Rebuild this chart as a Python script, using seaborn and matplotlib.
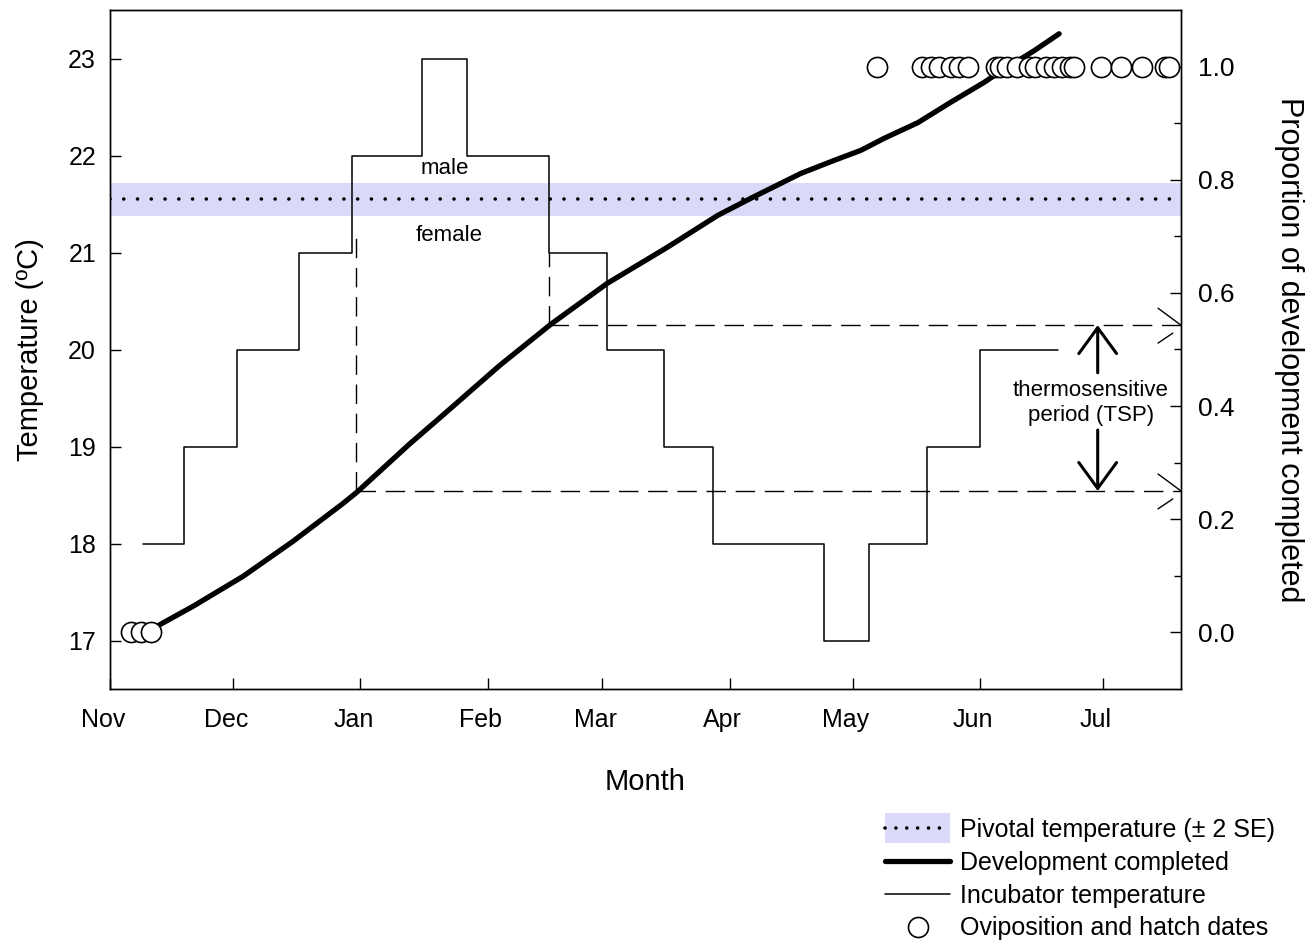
import numpy as np
import pandas as pd
import matplotlib
matplotlib.use("Agg")
import matplotlib.pyplot as plt
import matplotlib.transforms as mtransforms
from matplotlib.patches import Rectangle, Patch
from matplotlib.lines import Line2D
from matplotlib.legend_handler import HandlerPatch
import seaborn as sns

# ---------------- data ----------------
month_days = [0, 30, 61, 92, 120, 151, 181, 212, 242]
month_labels = ["Nov", "Dec", "Jan", "Feb", "Mar", "Apr", "May", "Jun", "Jul"]

# incubator temperature programme (step changes, days since 1 Nov)
step_day = [8, 18, 31, 46, 59, 76, 87, 107, 121, 135, 147, 174, 185, 199, 212, 231]
step_temp = [18, 19, 20, 21, 22, 23, 22, 21, 20, 19, 18, 17, 18, 19, 20, 20]

# proportion of development completed
dev_day = [10.5, 12.2, 20.2, 32.4, 44.6, 56.8, 60.2, 73.0, 80.5, 95.0, 107.5,
           121.2, 135.9, 148.1, 156.1, 168.3, 176.4, 183.0, 188.6, 196.9,
           204.9, 213.0, 217.1, 225.2, 231.3]
dev_prop = [0.005, 0.014, 0.046, 0.099, 0.161, 0.228, 0.248, 0.333, 0.380,
            0.472, 0.545, 0.617, 0.681, 0.737, 0.767, 0.811, 0.834, 0.852,
            0.873, 0.901, 0.937, 0.972, 0.992, 1.028, 1.058]

# oviposition and hatch dates
ovi_day = [5, 7.5, 10]
ovi_prop = [0.0, 0.0, 0.0]
hatch_day = [187, 198, 200, 202, 205, 207, 209, 216, 217, 218.5, 221, 224,
             225.5, 228, 230, 232, 234, 235, 241.5, 246.5, 251.5, 257, 258]
hatch_prop = [1.0] * len(hatch_day)

# pivotal temperature (+/- 2 SE)
pivotal = 21.55
pivotal_lo = 21.38
pivotal_hi = 21.72

# thermosensitive period
tsp_start_day, tsp_end_day = 60, 107
tsp_start_prop, tsp_end_prop = 0.25, 0.543

# ---------------- style ----------------
sns.set_style("ticks")
plt.rcParams["font.family"] = ["Liberation Sans", "DejaVu Sans"]
plt.rcParams["axes.linewidth"] = 1.0
for k in ("text.color", "axes.labelcolor", "xtick.color", "ytick.color",
          "axes.edgecolor"):
    plt.rcParams[k] = "black"

fig = plt.figure(figsize=(13.13, 9.43), dpi=100)
ax = fig.add_axes([110 / 1313, 1 - 689 / 943, 1071 / 1313, 679 / 943])
ax2 = ax.twinx()

XMAX = 261
T_LO, T_HI = 16.5, 23.5
P_LO, P_HI = -0.1, 1.1


def p2t(p):
    return T_LO + (p - P_LO) / (P_HI - P_LO) * (T_HI - T_LO)


# pivotal band and line
ax.axhspan(pivotal_lo, pivotal_hi, color="#dadaf8", lw=0, zorder=0)
ax.axhline(pivotal, color="black", lw=2.6, linestyle=(0, (0.01, 3.8)),
           dash_capstyle="round", zorder=1)

# incubator temperature
step_df = pd.DataFrame({"day": step_day, "temp": step_temp})
sns.lineplot(data=step_df, x="day", y="temp", ax=ax, color="black", lw=1.1,
             drawstyle="steps-post", estimator=None, sort=False, zorder=2)

# TSP dashed guides
dash = (0, (14, 7))
t_start, t_end = p2t(tsp_start_prop), p2t(tsp_end_prop)
ax.plot([tsp_start_day, tsp_start_day], [t_start, 21.2], color="black", lw=1.0, ls=dash)
ax.plot([tsp_end_day, tsp_end_day], [t_end, 21.0], color="black", lw=1.0, ls=dash)
ax.plot([tsp_start_day, XMAX], [t_start, t_start], color="black", lw=1.0, ls=dash)
ax.plot([tsp_end_day, XMAX], [t_end, t_end], color="black", lw=1.0, ls=dash)
for t in (t_start, t_end):
    ax.plot([255.4, XMAX], [t + 0.175, t], color="black", lw=1.0, clip_on=False)
    ax.plot([255.4, 259.0], [t - 0.185, t - 0.082], color="black", lw=1.0, clip_on=False)

# TSP arrows and text
arrow_kw = dict(arrowstyle="->,head_length=0.93,head_width=0.68", color="black",
                lw=2.2, shrinkA=0, shrinkB=0, mutation_scale=20)
ax.annotate("", xy=(240.7, t_end), xytext=(240.7, 19.76), arrowprops=arrow_kw)
ax.annotate("", xy=(240.7, t_start), xytext=(240.7, 19.17), arrowprops=arrow_kw)
ax.text(239, 19.45, "thermosensitive\nperiod (TSP)", ha="center", va="center",
        fontsize=16, linespacing=1.25)
ax.text(81.5, 21.87, "male", ha="center", va="center", fontsize=16)
ax.text(82.7, 21.18, "female", ha="center", va="center", fontsize=16)

# development curve (right axis)
dev_df = pd.DataFrame({"day": dev_day, "prop": dev_prop})
sns.lineplot(data=dev_df, x="day", y="prop", ax=ax2, color="black", lw=3.8,
             estimator=None, sort=False, solid_capstyle="round", zorder=2)

# oviposition / hatch dates
pts = pd.DataFrame({"day": ovi_day + hatch_day, "prop": ovi_prop + hatch_prop})
sns.scatterplot(data=pts, x="day", y="prop", ax=ax2, marker="o", s=210,
                facecolor="white", edgecolor="black", linewidth=1.2, zorder=3)

# ---------------- axes ----------------
ax.set_xlim(0, XMAX)
ax.set_ylim(T_LO, T_HI)
ax2.set_ylim(P_LO, P_HI)
ax.set_xticks(month_days)
ax.set_xticklabels(month_labels)
ax.set_yticks([17, 18, 19, 20, 21, 22, 23])
ax2.set_yticks([0.0, 0.2, 0.4, 0.6, 0.8, 1.0])
ax2.set_yticklabels(["0.0", "0.2", "0.4", "0.6", "0.8", "1.0"])
ax2.set_yticks([0.1, 0.3, 0.5, 0.7, 0.9], minor=True)

ax.tick_params(axis="x", direction="in", length=8, width=1.0, labelsize=18,
               pad=13.5, colors="black")
ax.tick_params(axis="y", direction="in", length=8, width=1.0, labelsize=18,
               pad=10, colors="black")
ax2.tick_params(axis="y", which="major", direction="in", length=8, width=1.0,
                labelsize=19, pad=12, colors="black")
ax2.tick_params(axis="y", which="minor", direction="in", length=5, width=1.0)
for sp in ax.spines.values():
    sp.set_visible(True)
    sp.set_color("black")
for sp in ax2.spines.values():
    sp.set_color("black")

offset = mtransforms.ScaledTranslation(-7 / 100, 0, fig.dpi_scale_trans)
for lab in ax.get_xticklabels():
    lab.set_transform(lab.get_transform() + offset)

ax.set_xlabel("Month", fontsize=21)
ax.set_ylabel("Temperature (ºC)", fontsize=21)
ax2.set_ylabel("Proportion of development completed", fontsize=22,
               rotation=270, va="bottom")
ax.xaxis.set_label_coords(0.5, -0.116)
ax.xaxis.label.set_va("top")
ax.yaxis.set_label_coords(-0.062, 0.5)
ax2.yaxis.set_label_coords(1.087, 0.5)

# ---------------- legend ----------------
def tall_patch(legend, orig_handle, xdescent, ydescent, width, height, fontsize):
    pad = 0.35 * height
    return Rectangle((-xdescent, -ydescent - pad), width, height + 2 * pad)


band_h = Patch(facecolor="#dadaf8", edgecolor="none")
dot_h = Line2D([], [], color="black", lw=2.6, linestyle=(0, (0.01, 3.0)),
               dash_capstyle="round")
dev_h = Line2D([], [], color="black", lw=3.8)
inc_h = Line2D([], [], color="black", lw=1.1)
pt_h = Line2D([], [], color="black", marker="o", markersize=14.4,
              markerfacecolor="white", markeredgewidth=1.2, linestyle="none")
fig.legend([(band_h, dot_h), dev_h, inc_h, pt_h],
           ["Pivotal temperature (± 2 SE)", "Development completed",
            "Incubator temperature", "Oviposition and hatch dates"],
           loc="upper left", bbox_to_anchor=(885 / 1313, 1 - 818 / 943),
           frameon=False, fontsize=18, handlelength=2.6, handletextpad=0.4,
           labelspacing=0.35, borderpad=0, borderaxespad=0, numpoints=1,
           handler_map={Patch: HandlerPatch(patch_func=tall_patch)})

fig.savefig("out.png", dpi=100)
